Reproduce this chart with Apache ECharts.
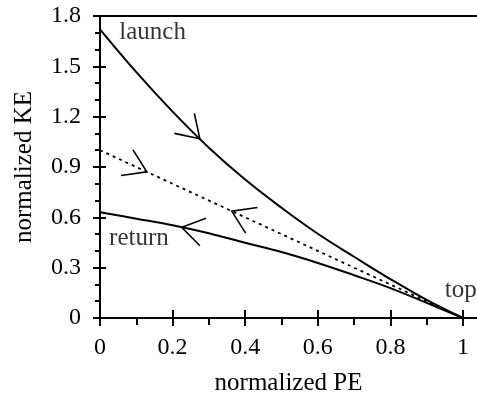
<!DOCTYPE html>
<html>
<head>
<meta charset="utf-8">
<script src="https://cdn.jsdelivr.net/npm/echarts@6/dist/echarts.min.js"></script>
<style>html,body{margin:0;padding:0;background:#fff;}#c{width:477px;height:401px;}</style>
</head>
<body>
<div id="c"></div>
<script>
// ---- data ----
var launchPE = [0, 0.1, 0.2, 0.3, 0.4, 0.5, 0.6, 0.7, 0.8, 0.9, 1.0];
var launchKE = [1.72, 1.465, 1.23, 1.015, 0.825, 0.657, 0.502, 0.365, 0.232, 0.108, 0];
var returnPE = [0, 0.1, 0.2, 0.3, 0.4, 0.5, 0.6, 0.7, 0.8, 0.9, 1.0];
var returnKE = [0.63, 0.592, 0.553, 0.505, 0.448, 0.393, 0.328, 0.255, 0.178, 0.09, 0];
var dashedPE = [0, 1];
var dashedKE = [1, 0];
// arrows: [PE position, curve index (0 launch, 1 dashed, 2 return), direction (+1 toward top, -1 back)]
var arrows = [[0.275, 0, 1], [0.129, 1, 1], [0.363, 1, -1], [0.225, 2, -1]];
// text annotations: [PE, KE, text]
var notes = [[0.053, 1.70, 'launch'], [0.025, 0.477, 'return'], [0.95, 0.167, 'top']];
var xMajor = [0, 0.2, 0.4, 0.6, 0.8, 1];
var xMinor = [0.1, 0.3, 0.5, 0.7, 0.9];
var yMin = 0, yMax = 1.8, yInterval = 0.3;

function zip(a, b) { return a.map(function (v, i) { return [v, b[i]]; }); }
var curves = [zip(launchPE, launchKE), zip(dashedPE, dashedKE), zip(returnPE, returnKE)];
function interp(c, x) {
  for (var i = 0; i < c.length - 1; i++) {
    if (x >= c[i][0] && x <= c[i + 1][0]) {
      var t = (x - c[i][0]) / (c[i + 1][0] - c[i][0]);
      return c[i][1] + t * (c[i + 1][1] - c[i][1]);
    }
  }
  return c[c.length - 1][1];
}

var FONT = 'Liberation Serif';
var black = '#000';
var chart = echarts.init(document.getElementById('c'));
var xMax = 1.0386;
var baseX = { type: 'value', min: 0, max: xMax, position: 'bottom', splitLine: { show: false } };
var baseY = { type: 'value', min: yMin, max: yMax, interval: yInterval, position: 'left', splitLine: { show: false } };

chart.setOption({
  animation: false,
  grid: { left: 100, right: 0, top: 16, bottom: 83 },
  xAxis: [
    Object.assign({}, baseX, {
      name: 'normalized PE', nameLocation: 'middle', nameGap: 53,
      nameTextStyle: { fontFamily: FONT, fontSize: 25, color: black },
      axisLine: { show: true, lineStyle: { color: black, width: 2 } },
      axisTick: { show: true, inside: false, length: 8, customValues: xMajor, lineStyle: { color: black, width: 2 } },
      axisLabel: { show: true, margin: 18, customValues: xMajor, fontFamily: FONT, fontSize: 24, color: black,
        formatter: function (v) { return String(Math.round(v * 10) / 10); } }
    }),
    Object.assign({}, baseX, {
      axisLine: { show: false },
      axisTick: { show: true, inside: true, length: 8, customValues: xMajor, lineStyle: { color: black, width: 2 } },
      axisLabel: { show: false }
    }),
    Object.assign({}, baseX, {
      axisLine: { show: false },
      axisTick: { show: true, inside: false, length: 7, customValues: xMinor, lineStyle: { color: black, width: 2 } },
      axisLabel: { show: false }
    }),
    Object.assign({}, baseX, {
      position: 'top',
      axisLine: { show: true, lineStyle: { color: black, width: 2 } },
      axisTick: { show: false }, axisLabel: { show: false }
    })
  ],
  yAxis: [
    Object.assign({}, baseY, {
      name: 'normalized KE', nameLocation: 'middle', nameGap: 63, nameRotate: 90,
      nameTextStyle: { fontFamily: FONT, fontSize: 25, color: black },
      axisLine: { show: true, lineStyle: { color: black, width: 2 } },
      axisTick: { show: true, inside: false, length: 7, lineStyle: { color: black, width: 2 } },
      minorTick: { show: true, splitNumber: 3, length: 5, lineStyle: { color: black, width: 2 } },
      axisLabel: { show: true, margin: 19, fontFamily: FONT, fontSize: 24, color: black,
        formatter: function (v) { return v === 0 ? '0' : v.toFixed(1); } }
    }),
    Object.assign({}, baseY, {
      axisLine: { show: false },
      axisTick: { show: true, inside: true, length: 6, lineStyle: { color: black, width: 2 } },
      axisLabel: { show: false }
    })
  ],
  series: [
    { type: 'line', data: curves[0], smooth: 0.4, showSymbol: false, symbol: 'none',
      lineStyle: { color: black, width: 2 } },
    { type: 'line', data: curves[1], showSymbol: false, symbol: 'none',
      lineStyle: { color: black, width: 1.8, type: [3, 4] } },
    { type: 'line', data: curves[2], smooth: 0.4, showSymbol: false, symbol: 'none',
      lineStyle: { color: black, width: 2 } },
    { type: 'custom', data: arrows, clip: false,
      renderItem: function (params, api) {
        var x = api.value(0), ci = api.value(1), dir = api.value(2);
        var c = curves[ci];
        var p = api.coord([x, interp(c, x)]);
        var x2 = x + 0.01 * dir;
        var q = api.coord([x2, interp(c, x2)]);
        var ang = Math.atan2(q[1] - p[1], q[0] - p[0]) + Math.PI;
        var L = 26, h = 33 * Math.PI / 180;
        var a1 = [p[0] + L * Math.cos(ang - h), p[1] + L * Math.sin(ang - h)];
        var a2 = [p[0] + L * Math.cos(ang + h), p[1] + L * Math.sin(ang + h)];
        return { type: 'polyline', shape: { points: [a1, p, a2] },
          style: { stroke: black, lineWidth: 1.6, fill: null } };
      }
    },
    { type: 'scatter', data: notes.map(function (n) { return [n[0], n[1], n[2]]; }),
      symbolSize: 0, silent: true,
      label: { show: true, position: 'right', distance: 0, formatter: function (p) { return p.data[2]; },
        fontFamily: FONT, fontSize: 25, color: black } }
  ]
});
</script>
</body>
</html>
